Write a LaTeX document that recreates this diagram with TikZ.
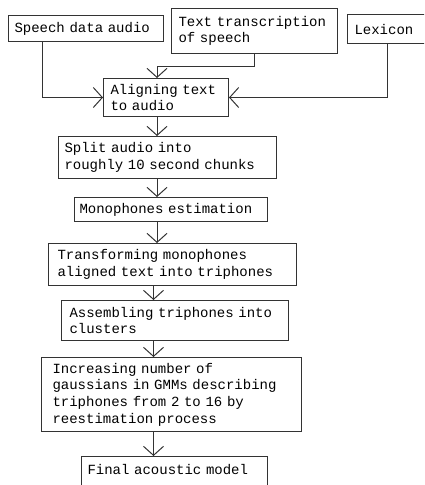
\documentclass[tikz,border=0pt]{standalone}
\usepackage{fontspec}
\setmonofont{Liberation Mono}
\usepackage{tikz}
\usetikzlibrary{arrows.meta}

\tikzset{
  stage/.style={draw=black!80, line width=1pt, anchor=north west, align=left,
    inner ysep=0pt, font=\ttfamily\fontsize{14}{16.7}\selectfont},
  flow/.style={draw=black!80, line width=1pt, -{Straight Barb[length=9pt,width=20pt]}}
}

\begin{document}
\begin{tikzpicture}[x=1pt, y=-1pt]
  \useasboundingbox (0,0) rectangle (424,485);
  \clip (0,0) rectangle (424,485);
  % ---------- INPUTS ----------
  \node[stage, text width=143pt, inner xsep=6pt, minimum height=26pt] (speech) at (8,15) {Speech data audio};
  \node[stage, text width=152pt, inner xsep=7pt, minimum height=45pt] (trans) at (171,8) {Text transcription\\of speech};
  \node[stage, text width=86pt, inner xsep=7pt, minimum height=29pt] (lex) at (347,14) {Lexicon};
  % ---------- PIPELINE ----------
  \coordinate (up) at (157,0);
  \coordinate (lo) at (153.5,0);
  \node[stage, text width=111pt, inner xsep=7pt, minimum height=38pt] (align) at (103,78) {Aligning text\\to audio};
  \node[stage, text width=206pt, inner xsep=6pt, minimum height=42pt] (split) at (58,136) {Split audio into\\roughly 10 second chunks};
  \node[stage, text width=183pt, inner xsep=5pt, minimum height=24pt] (mono) at (74,197) {Monophones estimation};
  \node[stage, text width=230pt, inner xsep=9pt, minimum height=42pt] (tri) at (48,243) {Transforming monophones\\aligned text into triphones};
  \node[stage, text width=210.5pt, inner xsep=8pt, minimum height=40pt] (clust) at (61,300) {Assembling triphones into\\clusters};
  \node[stage, text width=238pt, inner xsep=11pt, minimum height=74pt] (gmm) at (41,357) {Increasing number of\\gaussians in GMMs describing\\triphones from 2 to 16 by\\reestimation process};
  \node[stage, text width=174pt, inner xsep=6pt, inner ysep=4pt, text height=14pt, text depth=22pt] (final) at (81,456) {Final acoustic model};
  % ---------- ARROWS ----------
  \draw[flow] ([xshift=34pt]speech.south west) |- (align.west);
  \draw[flow] (trans.south) -- ++(0,12) -| (align.north -| up);
  \draw[flow] ([xshift=40pt]lex.south west) |- (align.east);
  \draw[flow] (align.south -| up) -- (split.north -| up);
  \draw[flow] (split.south -| up) -- (mono.north -| up);
  \draw[flow] (mono.south -| up) -- (tri.north -| up);
  \draw[flow] (tri.south -| lo) -- (clust.north -| lo);
  \draw[flow] (clust.south -| lo) -- (gmm.north -| lo);
  \draw[flow] (gmm.south -| lo) -- (final.north -| lo);
\end{tikzpicture}
\end{document}
